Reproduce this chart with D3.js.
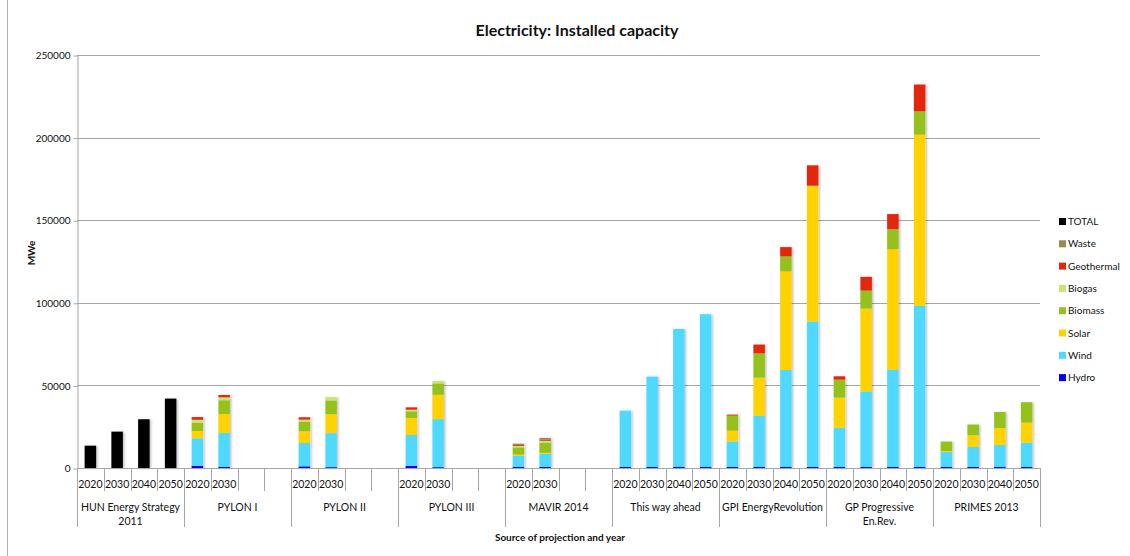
<!DOCTYPE html>
<html>
<head>
<meta charset="utf-8">
<script src="https://cdn.jsdelivr.net/npm/d3@7"></script>
<style>
  body { margin: 0; background: #fff; }
  text { font-family: Lato, "Open Sans", sans-serif; fill: #111; }
</style>
</head>
<body>
<div id="chart"></div>
<script>
// source groups and years (one slot per source/year pair)
var sources = [
  ["HUN Energy Strategy", "2011"],
  ["PYLON I"],
  ["PYLON II"],
  ["PYLON III"],
  ["MAVIR 2014"],
  ["This way ahead"],
  ["GPI EnergyRevolution"],
  ["GP Progressive", "En.Rev."],
  ["PRIMES 2013"]
];
var years = ["2020", "2030", "2040", "2050"];
// which year slots carry a label in each group
var yearShown = [
  [1, 1, 1, 1], [1, 1, 0, 0], [1, 1, 0, 0], [1, 1, 0, 0], [1, 1, 0, 0],
  [1, 1, 1, 1], [1, 1, 1, 1], [1, 1, 1, 1], [1, 1, 1, 1]
];

// series values, MWe, 36 slots (9 sources x 4 years)
var hydro      = [0,0,0,0, 1300,600,0,0, 1000,500,0,0, 1300,500,0,0, 600,600,0,0, 600,600,600,600, 600,600,600,600, 600,600,600,600, 600,600,600,600];
var wind       = [0,0,0,0, 16700,20600,0,0, 14100,20600,0,0, 18700,29100,0,0, 6700,8000,0,0, 34100,54700,83600,92500, 15500,31100,58800,88100, 23800,45800,59000,97600, 9100,12100,13300,14800];
var solar      = [0,0,0,0, 4400,11500,0,0, 7100,11500,0,0, 10300,14700,0,0, 800,600,0,0, 0,0,0,0, 6500,23000,59600,82200, 18200,50100,72900,103600, 600,7100,10300,12100];
var biomass    = [0,0,0,0, 5000,8300,0,0, 5900,8300,0,0, 4000,6900,0,0, 4400,6200,0,0, 0,0,0,0, 9100,14700,9100,0, 10900,10900,12100,14100, 5700,6500,9700,12300];
var biogas     = [0,0,0,0, 1800,1800,0,0, 1200,2000,0,0, 1000,1400,0,0, 900,1100,0,0, 0,0,0,0, 0,0,0,0, 0,0,0,0, 0,0,0,0];
var geothermal = [0,0,0,0, 1600,1400,0,0, 1400,0,0,0, 1400,0,0,0, 500,700,0,0, 0,0,0,0, 600,5300,5600,12300, 2000,8300,9100,16200, 0,0,0,0];
var waste      = [0,0,0,0, 0,0,0,0, 0,0,0,0, 0,0,0,0, 800,1000,0,0, 0,0,0,0, 0,0,0,0, 0,0,0,0, 0,0,0,0];
var total      = [13500,22000,29500,42000, 0,0,0,0, 0,0,0,0, 0,0,0,0, 0,0,0,0, 0,0,0,0, 0,0,0,0, 0,0,0,0, 0,0,0,0];

var yTicks = [0, 50000, 100000, 150000, 200000, 250000];

var seriesNames = ["Hydro", "Wind", "Solar", "Biomass", "Biogas", "Geothermal", "Waste", "TOTAL"];
var seriesColors = ["#0000f5", "#50d9ff", "#ffd200", "#95c11f", "#c9e56e", "#e3260f", "#958b55", "#000000"];
var seriesValues = [hydro, wind, solar, biomass, biogas, geothermal, waste, total];

(function (d3) {
  'use strict';
  // build one row per slot for d3.stack
  var slots = [];
  sources.forEach(function (s, gi) {
    years.forEach(function (yr, yi) {
      var row = { id: gi + "-" + yi, group: gi, year: yr };
      seriesNames.forEach(function (n, si) { row[n] = seriesValues[si][gi * 4 + yi]; });
      slots.push(row);
    });
  });

  var svgWidth = 1130, svgHeight = 556;
  var plotLeft = 77, plotRight = 1040, plotTop = 55, plotBottom = 468;

  var svg = d3.select("#chart").append("svg")
    .attr("width", svgWidth)
    .attr("height", svgHeight);

  // bar shadow
  svg.append("defs").append("filter").attr("id", "shadow")
    .attr("x", "-30%").attr("y", "-10%").attr("width", "160%").attr("height", "120%")
    .append("feDropShadow")
    .attr("dx", 1.5).attr("dy", 0.5).attr("stdDeviation", 0.8)
    .attr("flood-color", "#000").attr("flood-opacity", 0.25);

  // left frame line
  svg.append("line")
    .attr("x1", 7.5).attr("x2", 7.5).attr("y1", 0).attr("y2", svgHeight)
    .attr("stroke", "#b0b0b0");

  var x = d3.scaleBand()
    .domain(slots.map(function (d) { return d.id; }))
    .range([plotLeft, plotRight])
    .paddingInner(0.57)
    .paddingOuter(0.285);

  var y = d3.scaleLinear()
    .domain([0, 250000])
    .range([plotBottom, plotTop]);

  // gridlines
  svg.append("g")
    .selectAll("line")
    .data(yTicks.slice(1))
    .enter().append("line")
    .attr("x1", plotLeft).attr("x2", plotRight)
    .attr("y1", function (d) { return Math.round(y(d)) + 0.5; })
    .attr("y2", function (d) { return Math.round(y(d)) + 0.5; })
    .attr("stroke", "#a6a6a6");

  // y axis
  var yAxis = svg.append("g")
    .attr("transform", "translate(" + (plotLeft + 0.5) + ",0.5)")
    .call(d3.axisLeft(y).tickValues(yTicks).tickFormat(d3.format("d"))
      .tickSize(4).tickSizeOuter(0).tickPadding(3));
  yAxis.selectAll("path, line").attr("stroke", "#a6a6a6");
  yAxis.selectAll("text")
    .style("font-family", "Lato, sans-serif")
    .style("font-size", "10px")
    .attr("fill", "#222");

  // stacked bars
  var layers = d3.stack().keys(seriesNames)(slots);

  svg.append("g")
    .attr("filter", "url(#shadow)")
    .selectAll("g")
    .data(layers)
    .enter().append("g")
    .attr("fill", function (d, i) { return seriesColors[i]; })
    .selectAll("rect")
    .data(function (d) { return d.filter(function (p) { return p[1] - p[0] > 0; }); })
    .enter().append("rect")
    .attr("x", function (d) { return x(d.data.id); })
    .attr("width", x.bandwidth())
    .attr("y", function (d) { return y(d[1]); })
    .attr("height", function (d) { return y(d[0]) - y(d[1]); });

  // category axis
  var step = x.step();
  var xAxis = svg.append("g");
  xAxis.append("line")
    .attr("x1", plotLeft).attr("x2", plotRight)
    .attr("y1", plotBottom + 0.5).attr("y2", plotBottom + 0.5)
    .attr("stroke", "#a6a6a6");

  xAxis.selectAll("line.tick")
    .data(d3.range(slots.length + 1))
    .enter().append("line")
    .attr("class", "tick")
    .attr("x1", function (i) { return Math.round(plotLeft + i * step) + 0.5; })
    .attr("x2", function (i) { return Math.round(plotLeft + i * step) + 0.5; })
    .attr("y1", plotBottom)
    .attr("y2", function (i) { return i % 4 === 0 ? plotBottom + 59 : plotBottom + 23; })
    .attr("stroke", "#a6a6a6");

  xAxis.selectAll("text.year")
    .data(slots.filter(function (d, i) { return yearShown[d.group][i % 4]; }))
    .enter().append("text")
    .attr("class", "year")
    .attr("x", function (d) { return x(d.id) + x.bandwidth() / 2; })
    .attr("y", plotBottom + 20)
    .attr("text-anchor", "middle")
    .style("font-size", "10.5px")
    .text(function (d) { return d.year; });

  xAxis.selectAll("text.source")
    .data(sources)
    .enter().append("text")
    .attr("class", "source")
    .attr("x", function (d, i) { return plotLeft + (i * 4 + 2) * step; })
    .attr("y", plotBottom + 43)
    .attr("text-anchor", "middle")
    .style("font-size", "10.5px")
    .selectAll("tspan")
    .data(function (d) { return d; })
    .enter().append("tspan")
    .attr("x", function () { return d3.select(this.parentNode).attr("x"); })
    .attr("dy", function (d, i) { return i === 0 ? 0 : 14; })
    .text(function (d) { return d; });

  // titles
  svg.append("text")
    .attr("x", 577).attr("y", 36)
    .attr("text-anchor", "middle")
    .style("font-size", "16px").style("font-weight", "bold")
    .text("Electricity: Installed capacity");

  svg.append("text")
    .attr("x", 560).attr("y", 541)
    .attr("text-anchor", "middle")
    .style("font-size", "10px").style("font-weight", "bold")
    .text("Source of projection and year");

  svg.append("text")
    .attr("transform", "translate(35,253) rotate(-90)")
    .attr("text-anchor", "middle")
    .style("font-size", "10px").style("font-weight", "bold")
    .text("MWe");

  // legend, top entry is the last series
  var legend = svg.append("g").attr("transform", "translate(1059,218)");
  var legendItems = legend.selectAll("g")
    .data(seriesNames.slice().reverse())
    .enter().append("g")
    .attr("transform", function (d, i) { return "translate(0," + (i * 22.3) + ")"; });
  legendItems.append("rect")
    .attr("width", 7).attr("height", 7)
    .attr("fill", function (d) { return seriesColors[seriesNames.indexOf(d)]; });
  legendItems.append("text")
    .attr("x", 9).attr("y", 7)
    .style("font-size", "10px")
    .text(function (d) { return d; });
})(window.d3);
</script>
</body>
</html>
